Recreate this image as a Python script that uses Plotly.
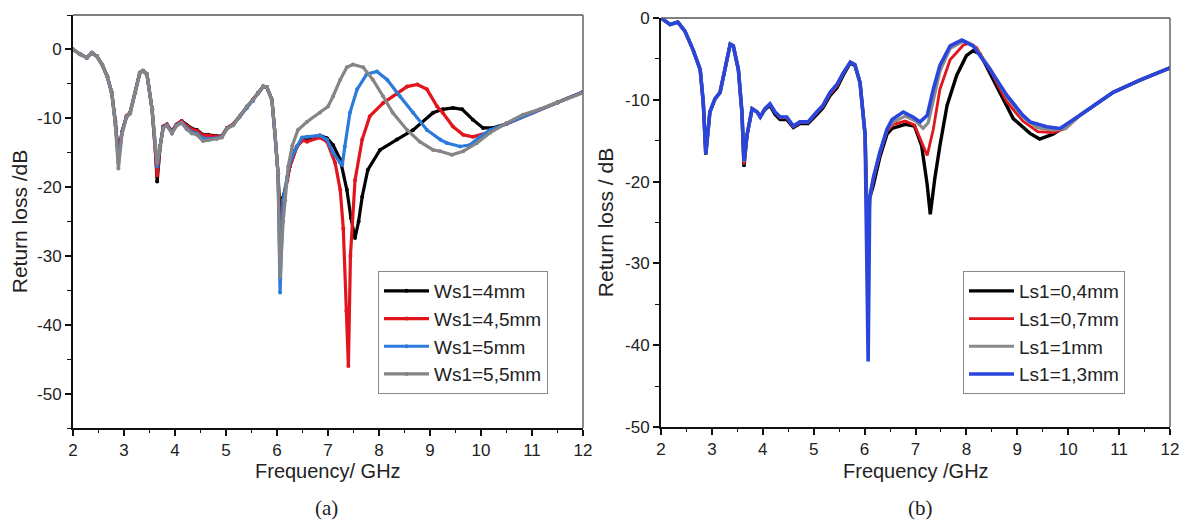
import plotly.graph_objects as go

# ---------------- data ----------------
# panel (a): Ws1 sweep, low band shared frequency points
fa_low = [2.0, 2.14, 2.27, 2.37, 2.47, 2.57, 2.67, 2.76, 2.83, 2.89, 2.96, 3.05, 3.12, 3.22,
          3.31, 3.37, 3.45, 3.55, 3.61, 3.65, 3.71, 3.77, 3.84, 3.94, 4.03, 4.13, 4.23, 4.33,
          4.43, 4.55, 4.65, 4.82, 4.92, 5.02, 5.14, 5.27, 5.41, 5.53, 5.63, 5.73, 5.8, 5.9,
          5.96, 6.02]
ws4_low = [0, -0.7, -1.2, -0.5, -1.0, -2.2, -3.9, -6.3, -10.5, -15.5, -12.0, -9.7, -9.2, -6.3,
           -3.4, -3.1, -3.6, -8.7, -14.0, -19.2, -14.0, -11.2, -10.9, -11.9, -10.9, -10.4, -11.0, -11.5,
           -11.7, -12.4, -12.4, -12.6, -12.6, -11.4, -10.9, -9.7, -8.3, -7.3, -6.3, -5.4, -5.5, -7.3,
           -12.2, -18.0]
ws45_low = [0, -0.7, -1.2, -0.5, -1.0, -2.2, -3.9, -6.3, -10.5, -15.8, -12.0, -9.7, -9.2, -6.3,
            -3.4, -3.1, -3.6, -8.7, -14.0, -18.3, -14.0, -11.2, -10.9, -11.9, -10.9, -10.4, -11.1, -11.6,
            -11.8, -12.5, -12.5, -12.7, -12.6, -11.4, -10.9, -9.7, -8.4, -7.4, -6.3, -5.4, -5.5, -7.3,
            -12.2, -18.0]
ws5_low = [0, -0.7, -1.2, -0.5, -1.0, -2.2, -3.9, -6.3, -10.7, -16.5, -12.1, -9.8, -9.3, -6.3,
           -3.4, -3.1, -3.6, -8.7, -14.0, -17.0, -14.0, -11.3, -11.0, -12.1, -11.0, -10.6, -11.4, -12.0,
           -12.2, -12.9, -13.0, -12.9, -12.7, -11.5, -11.0, -9.8, -8.5, -7.5, -6.4, -5.4, -5.5, -7.3,
           -12.2, -18.0]
ws55_low = [0, -0.7, -1.2, -0.5, -1.0, -2.2, -3.9, -6.3, -11.0, -17.3, -12.3, -9.8, -9.3, -6.3,
            -3.4, -3.1, -3.6, -8.7, -14.0, -16.5, -14.0, -11.4, -11.1, -12.2, -11.1, -10.7, -11.6, -12.2,
            -12.4, -13.3, -13.2, -13.0, -12.8, -11.5, -11.0, -9.7, -8.3, -7.3, -6.3, -5.4, -5.5, -7.3,
            -12.2, -18.0]

ws4_hf = [6.06, 6.12, 6.2, 6.25, 6.39, 6.5, 6.65, 6.84, 6.98, 7.1, 7.24, 7.37, 7.45, 7.53, 7.6,
          7.67, 7.78, 8.02, 8.35, 8.67, 9.06, 9.25, 9.45, 9.63, 9.84, 10.04, 10.24, 10.5, 11.0, 11.5, 12.0]
ws4_hy = [-24, -21.5, -19, -17, -14.1, -13.2, -12.8, -12.5, -12.9, -13.9, -16, -20.4, -24.5, -27.4, -25,
          -21.4, -17.5, -14.6, -13.1, -11.7, -9.2, -8.7, -8.5, -8.7, -10.2, -11.4, -11.4, -10.8, -9.2, -7.7, -6.2]

ws45_hf = [6.06, 6.12, 6.2, 6.25, 6.39, 6.5, 6.59, 6.84, 6.98, 7.14, 7.24, 7.3, 7.36, 7.4, 7.44, 7.53,
           7.67, 7.82, 8.08, 8.35, 8.55, 8.75, 8.94, 9.14, 9.25, 9.45, 9.65, 9.84, 10.12, 10.31, 10.5,
           11.0, 11.5, 12.0]
ws45_hy = [-29, -22, -19, -17, -14.1, -13.2, -13.4, -12.8, -13.4, -16.5, -20.4, -26, -38, -46, -30, -19,
           -13.1, -9.7, -7.8, -6.5, -5.4, -5.1, -5.8, -8.3, -9.2, -11.2, -12.4, -12.7, -12.1, -11.4, -10.8,
           -9.2, -7.7, -6.2]

ws5_hf = [6.06, 6.12, 6.2, 6.25, 6.35, 6.49, 6.59, 6.84, 6.98, 7.1, 7.24, 7.28, 7.33, 7.43, 7.57, 7.76,
          7.96, 8.16, 8.41, 8.67, 8.94, 9.2, 9.33, 9.59, 9.78, 9.98, 10.18, 10.5, 11.0, 11.5, 12.0]
ws5_hy = [-35.3, -22, -18.5, -16.5, -14.6, -12.8, -12.7, -12.5, -13.1, -15, -16.5, -16.8, -14.1, -9.2,
          -5.8, -3.6, -3.2, -4.4, -6.8, -9.2, -11.7, -13.1, -13.6, -14.1, -13.9, -12.7, -11.7, -10.8,
          -9.2, -7.7, -6.2]

ws55_hf = [6.06, 6.12, 6.16, 6.22, 6.3, 6.41, 6.59, 6.84, 7.0, 7.1, 7.24, 7.37, 7.49, 7.69, 7.88, 8.08,
           8.27, 8.55, 8.8, 9.06, 9.2, 9.43, 9.65, 9.92, 10.18, 10.5, 10.82, 11.15, 11.49, 12.0]
ws55_hy = [-33, -25, -21.9, -17, -14, -11.7, -10.5, -9.2, -8.3, -6.8, -4.4, -2.6, -2.2, -2.6, -4.4, -6.8,
           -9.2, -11.7, -13.4, -14.6, -14.8, -15.3, -14.8, -13.6, -12.1, -10.7, -9.5, -8.7, -7.7, -6.3]

# panel (b): Ls1 sweep
fb_low = [2.0, 2.18, 2.33, 2.47, 2.63, 2.77, 2.83, 2.88, 2.96, 3.06, 3.16, 3.26, 3.36, 3.42, 3.52,
          3.59, 3.63, 3.69, 3.79, 3.89, 3.95, 4.04, 4.14, 4.24, 4.34, 4.47, 4.6, 4.73, 4.89, 5.06,
          5.18, 5.32, 5.46, 5.58, 5.72, 5.81, 5.91, 6.01]
ls04_low = [0, -0.8, -0.5, -1.6, -3.9, -6.3, -10.3, -16.7, -11.5, -9.9, -9.1, -6.3, -3.2, -3.4, -6.3,
            -11.5, -18.2, -14.3, -11.1, -11.5, -12.1, -11.2, -10.7, -11.8, -12.4, -12.4, -13.4, -12.9, -12.9,
            -11.8, -11.0, -9.5, -8.5, -7.0, -5.5, -5.8, -7.9, -14.3]
ls07_low = [0, -0.8, -0.5, -1.6, -3.9, -6.3, -10.3, -16.6, -11.5, -9.9, -9.1, -6.3, -3.2, -3.4, -6.3,
            -11.5, -17.9, -14.3, -11.1, -11.5, -12.1, -11.1, -10.6, -11.6, -12.2, -12.2, -13.3, -12.8, -12.8,
            -11.6, -10.8, -9.3, -8.3, -6.8, -5.4, -5.7, -7.9, -14.3]
ls1_low = [0, -0.8, -0.5, -1.6, -3.9, -6.3, -10.3, -16.6, -11.5, -9.9, -9.1, -6.3, -3.2, -3.4, -6.3,
           -11.5, -17.6, -14.3, -11.1, -11.5, -12.1, -11.1, -10.5, -11.5, -12.1, -12.1, -13.2, -12.7, -12.7,
           -11.5, -10.7, -9.1, -8.1, -6.7, -5.4, -5.7, -7.9, -14.3]
ls13_low = [0, -0.8, -0.5, -1.6, -3.9, -6.3, -10.3, -16.6, -11.5, -9.9, -9.1, -6.3, -3.2, -3.4, -6.3,
            -11.5, -17.5, -14.3, -11.1, -11.5, -12.1, -11.1, -10.5, -11.5, -12.1, -12.1, -13.2, -12.7, -12.7,
            -11.5, -10.7, -9.1, -8.1, -6.7, -5.4, -5.7, -7.9, -14.3]

ls04_hf = [6.06, 6.1, 6.17, 6.3, 6.44, 6.54, 6.8, 6.98, 7.12, 7.23, 7.29, 7.38, 7.48, 7.62, 7.81, 8.0,
           8.13, 8.27, 8.6, 8.92, 9.25, 9.44, 9.7, 9.9, 10.23, 10.88, 11.41, 12.0]
ls04_hy = [-27, -22, -20.5, -17, -14.2, -13.5, -13.0, -13.2, -15.6, -20.4, -24.0, -19.6, -15.6, -10.7,
           -7.0, -4.6, -4.0, -4.4, -8.4, -12.3, -14.1, -14.8, -14.2, -13.4, -11.9, -9.1, -7.6, -6.1]

ls07_hf = [6.06, 6.1, 6.17, 6.3, 6.44, 6.57, 6.8, 6.98, 7.15, 7.23, 7.35, 7.48, 7.68, 7.94, 8.05, 8.2,
           8.5, 8.8, 9.11, 9.4, 9.7, 9.95, 10.23, 10.88, 11.41, 12.0]
ls07_hy = [-30, -22, -19.8, -16.6, -13.8, -13.0, -12.6, -13.1, -15.6, -16.8, -13.6, -8.7, -5.1, -3.3,
           -3.1, -3.6, -6.8, -10.3, -12.6, -13.9, -14.0, -13.5, -11.9, -9.1, -7.6, -6.1]

ls1_hf = [6.06, 6.1, 6.17, 6.3, 6.44, 6.57, 6.8, 7.0, 7.15, 7.25, 7.35, 7.48, 7.68, 7.95, 8.13, 8.46,
          8.8, 9.11, 9.4, 9.7, 9.95, 10.23, 10.88, 11.41, 12.0]
ls1_hy = [-32, -22, -19.6, -16.4, -13.6, -12.7, -12.0, -12.6, -13.5, -12.8, -10.0, -6.5, -3.7, -2.8,
          -3.3, -6.1, -9.7, -12.1, -13.4, -13.7, -13.5, -11.9, -9.1, -7.6, -6.1]

ls13_hf = [6.07, 6.1, 6.17, 6.3, 6.44, 6.54, 6.76, 6.95, 7.09, 7.23, 7.35, 7.48, 7.68, 7.91, 8.13, 8.46,
           8.8, 9.11, 9.25, 9.58, 9.84, 10.23, 10.88, 11.41, 12.0]
ls13_hy = [-42, -22, -19.6, -16.4, -13.6, -12.4, -11.5, -12.1, -12.7, -11.9, -8.7, -5.8, -3.4, -2.7,
           -3.4, -6.3, -9.5, -11.9, -12.7, -13.3, -13.5, -11.9, -9.1, -7.6, -6.1]

x_ticks = [2, 3, 4, 5, 6, 7, 8, 9, 10, 11, 12]
ya_ticks = [0, -10, -20, -30, -40, -50]
yb_ticks = [0, -10, -20, -30, -40, -50]

FONT = "Liberation Sans, Arial, sans-serif"
SERIF = "Liberation Serif, Times New Roman, serif"

# the page body has an 8px margin, so the figure starts 8px in from the window corner;
# make it fill the rest of the window and place things in window pixels
OFF = 8
W, H = 1187 - OFF, 523 - OFF


def px(x):
    return (x - OFF) / W


def py(y):
    return 1 - (y - OFF) / H


fig = go.Figure()

series_a = [
    ("Ws1=4mm", ws4_low, ws4_hf, ws4_hy, "#000000"),
    ("Ws1=4,5mm", ws45_low, ws45_hf, ws45_hy, "#e3151c"),
    ("Ws1=5mm", ws5_low, ws5_hf, ws5_hy, "#2b7bdc"),
    ("Ws1=5,5mm", ws55_low, ws55_hf, ws55_hy, "#858585"),
]
for name, lo, hf, hy, col in series_a:
    fig.add_trace(go.Scatter(
        x=fa_low + hf, y=lo + hy, name=name, mode="lines+markers",
        line=dict(color=col, width=3.2), marker=dict(color=col, size=4),
        xaxis="x", yaxis="y", legend="legend"))

series_b = [
    ("Ls1=0,4mm", ls04_low, ls04_hf, ls04_hy, "#000000", 3.4),
    ("Ls1=0,7mm", ls07_low, ls07_hf, ls07_hy, "#e3151c", 2.8),
    ("Ls1=1mm", ls1_low, ls1_hf, ls1_hy, "#8a8a8a", 3.2),
    ("Ls1=1,3mm", ls13_low, ls13_hf, ls13_hy, "#2a45dc", 3.6),
]
for name, lo, hf, hy, col, w in series_b:
    fig.add_trace(go.Scatter(
        x=fb_low + hf, y=lo + hy, name=name, mode="lines",
        line=dict(color=col, width=w),
        xaxis="x2", yaxis="y2", legend="legend2"))

axis_common = dict(
    showgrid=False, zeroline=False, showline=True, linecolor="#111", linewidth=2,
    ticks="outside", ticklen=6, tickwidth=1.5, tickcolor="#111", automargin=False,
    ticklabeloverflow="allow",
    tickfont=dict(family=FONT, size=17, color="#222"),
)
xa = dict(axis_common, range=[2, 12], tickvals=x_ticks, ticktext=[str(v) for v in x_ticks],
          minor=dict(dtick=0.5, tick0=2, ticks="outside", ticklen=3, tickcolor="#111", tickwidth=1.2))
ytitle_font = dict(family=FONT, size=21, color="#222")
legend_style = dict(xanchor="left", yanchor="top", bordercolor="#888", borderwidth=1,
                    bgcolor="white", font=dict(family=FONT, size=19, color="#222"),
                    tracegroupgap=0, itemwidth=45)

fig.update_layout(
    width=W, height=H,
    margin=dict(l=0, r=0, t=0, b=0),
    paper_bgcolor="white", plot_bgcolor="white",
    font=dict(family=FONT, color="#222"),
    xaxis=dict(xa, domain=[px(73), px(583)], anchor="y"),
    yaxis=dict(axis_common, domain=[py(428), py(15)], anchor="x", range=[-55, 5],
               tickvals=ya_ticks, ticktext=[str(v) for v in ya_ticks],
               title=dict(text="Return loss /dB", font=ytitle_font, standoff=6),
               minor=dict(dtick=5, tick0=0, ticks="outside", ticklen=4, tickcolor="#111", tickwidth=1.2)),
    xaxis2=dict(xa, domain=[px(661), px(1170)], anchor="y2"),
    yaxis2=dict(axis_common, domain=[py(427), py(18)], anchor="x2", range=[-50, 0],
                tickvals=yb_ticks, ticktext=[str(v) for v in yb_ticks],
                title=dict(text="Return loss / dB", font=ytitle_font, standoff=6),
                minor=dict(dtick=5, tick0=0, ticks="outside", ticklen=4, tickcolor="#111", tickwidth=1.2)),
    legend=dict(legend_style, x=px(378), y=py(271)),
    legend2=dict(legend_style, x=px(963), y=py(271)),
    showlegend=True,
)

# top / right frame lines in grey
for xr, yr in [("x domain", "y domain"), ("x2 domain", "y2 domain")]:
    fig.add_shape(type="line", xref=xr, yref=yr, x0=0, x1=1, y0=1, y1=1,
                  line=dict(color="#555", width=1.5))
    fig.add_shape(type="line", xref=xr, yref=yr, x0=1, x1=1, y0=0, y1=1,
                  line=dict(color="#666", width=1.5))

# x titles and panel captions
ann = [
    (328, 471, "Frequency/ GHz", 20, FONT),
    (916, 471, "Frequency /GHz", 20, FONT),
    (326, 508, "(a)", 21, SERIF),
    (920, 508, "(b)", 21, SERIF),
]
for x, y, txt, size, fam in ann:
    fig.add_annotation(x=px(x), y=py(y), xref="paper", yref="paper", text=txt,
                       showarrow=False, xanchor="center", yanchor="middle",
                       font=dict(family=fam, size=size, color="#222"))

fig.write_html("out.html")
